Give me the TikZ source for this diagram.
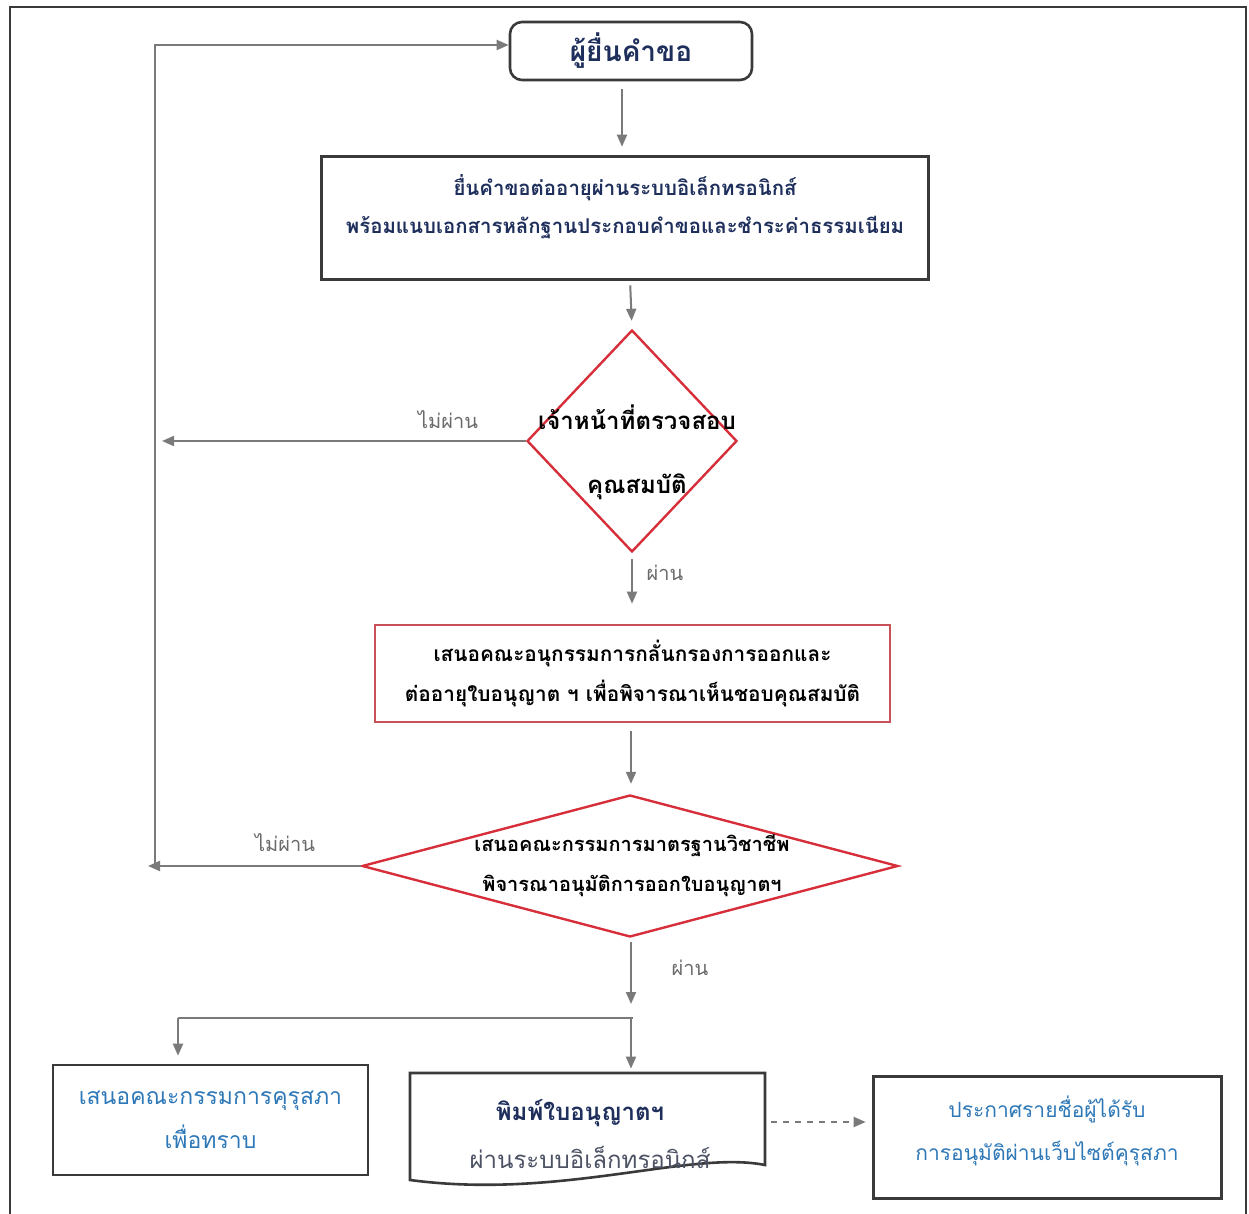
\documentclass[tikz,border=0pt]{standalone}
\usepackage{fontspec}
\newfontfamily\thai[Script=Thai]{Loma}
\usetikzlibrary{arrows.meta,shapes.geometric}
\definecolor{navy}{HTML}{1F2F5C}
\definecolor{conn}{HTML}{7A7A7A}
\definecolor{frame}{HTML}{3A3A3A}
\definecolor{dred}{HTML}{D62F3A}
\definecolor{pred}{HTML}{C8525A}
\definecolor{tblue}{HTML}{2E78B8}
\definecolor{lbl}{HTML}{6A6A6A}
\tikzset{
  boxa/.style={draw=frame, line width=1.3pt, rectangle, inner sep=0pt, align=center, text=navy},
  dia/.style={draw=dred, line width=1.2pt, diamond, inner sep=0pt},
  arr/.style={draw=conn, line width=1pt, -{Triangle[length=6pt,width=5pt]}},
  ln/.style={draw=conn, line width=1pt},
  lab/.style={font=\thai\fontsize{10}{12}\selectfont, text=lbl, inner sep=0pt},
  ttext/.style={inner sep=0pt, align=center, text=black},
}
\begin{document}
\begin{tikzpicture}[x=0.5pt,y=-0.5pt]
\useasboundingbox (0,0) rectangle (1249,1214);
% outer frame
\draw[frame, line width=1.3pt] (10,1214) -- (10,7) -- (1246,7) -- (1246,1214);

% nodes
\node[boxa, rounded corners=6pt, minimum width=121pt, minimum height=29pt,
      font=\thai\bfseries\fontsize{14}{16}\selectfont] (n1) at (631,51) {ผู้ยื่นคำขอ};
\node[boxa, minimum width=302pt, minimum height=60pt, draw=none] (b2) at (625,218) {};
\draw[frame, line width=1.3pt] (b2.south west) rectangle (b2.north east);
\node[ttext, text=navy, font=\thai\bfseries\fontsize{10.2}{19}\selectfont] (b2t) at (625,207)
  {ยื่นคำขอต่ออายุผ่านระบบอิเล็กทรอนิกส์\\พร้อมแนบเอกสารหลักฐานประกอบคำขอและชำระค่าธรรมเนียม};
\node[dia, minimum width=105pt, minimum height=111pt] (d1) at (632,441) {};
\node[ttext, font=\thai\bfseries\fontsize{12}{32}\selectfont] (d1t) at (637,452) {เจ้าหน้าที่ตรวจสอบ\\คุณสมบัติ};
\node[boxa, draw=pred, minimum width=257.5pt, minimum height=48.5pt, text=black,
      font=\thai\bfseries\fontsize{10.4}{20}\selectfont] (b3) at (632.5,673.5)
  {เสนอคณะอนุกรรมการกลั่นกรองการออกและ\\ต่ออายุใบอนุญาต ฯ เพื่อพิจารณาเห็นชอบคุณสมบัติ};
\node[dia, minimum width=268pt, minimum height=71pt] (d2) at (630,866) {};
\node[ttext, font=\thai\bfseries\fontsize{10}{20}\selectfont] (d2t) at (632,866) {เสนอคณะกรรมการมาตรฐานวิชาชีพ\\พิจารณาอนุมัติการออกใบอนุญาตฯ};
\node[boxa, minimum width=157.5pt, minimum height=55pt, text=tblue,
      font=\thai\fontsize{11.5}{22}\selectfont] (b4) at (210.5,1120) {เสนอคณะกรรมการคุรุสภา\\เพื่อทราบ};
% document shape
\node[minimum width=177.5pt, minimum height=46pt, inner sep=0pt] (b5) at (587.5,1119) {};
\draw[frame, line width=1.3pt] (410,1073) -- (765,1073) -- (765,1165)
   .. controls (690,1150) and (560,1200) .. (410,1180) -- cycle;
\node[ttext, text=navy, font=\thai\bfseries\fontsize{12}{16}\selectfont] (b5a) at (580,1113) {พิมพ์ใบอนุญาตฯ};
\node[ttext, text=lbl!60!navy, font=\thai\fontsize{12}{16}\selectfont] (b5b) at (590,1157) {ผ่านระบบอิเล็กทรอนิกส์};
\node[boxa, minimum width=172.5pt, minimum height=59.5pt, draw=none] (b6) at (1047.5,1137.5) {};
\draw[frame, line width=1.3pt] (b6.south west) rectangle (b6.north east);
\node[ttext, text=tblue, font=\thai\fontsize{10.5}{21.5}\selectfont] (b6t) at (1047,1131) {ประกาศรายชื่อผู้ได้รับ\\การอนุมัติผ่านเว็บไซต์คุรุสภา};

% labels
\node[lab] (l1) at (448,420) {ไม่ผ่าน};
\node[lab] (l2) at (285,843) {ไม่ผ่าน};
\node[lab] (l3) at (665,573) {ผ่าน};
\node[lab] (l4) at (690,968) {ผ่าน};

% coordinates
\coordinate (fbtop) at (155,45);
\coordinate (fbbot) at (155,866);
\coordinate (split) at (631,1018);
\coordinate (splitl) at (178,1018);

% connectors
\draw[arr, shorten <=4pt, shorten >=5pt] (n1.south -| 622,0) -- (b2.north -| 622,0);
\draw[arr, shorten <=3pt, shorten >=4pt] (b2.south -| 630,0) -- (d1.north);
\draw[arr, shorten <=3pt, shorten >=10pt] (d1.south) -- (b3.north -| d1.south);
\draw[arr, shorten <=4pt, shorten >=5pt] (b3.south -| 631,0) -- (d2.north -| 631,0);
\draw[arr, shorten <=2pt, shorten >=7pt] (d2.south -| 631,0) -- (split);
\draw[arr] (d1.west) -- (162,441);
\draw[arr] (d2.west) -- (148,866);
\draw[arr] (fbbot) -- (fbtop) -- (n1.west |- fbtop);
\draw[ln] (splitl) -- ([xshift=1pt]split);
\draw[arr, shorten >=4pt] (splitl) -- (b4.north -| splitl);
\draw[arr, shorten >=2pt] (split) -- (b5.north -| split);
\draw[arr, dashed, shorten <=3pt, shorten >=4pt] (b5.east |- 0,1122) -- (b6.west |- 0,1122);
\end{tikzpicture}
\end{document}
